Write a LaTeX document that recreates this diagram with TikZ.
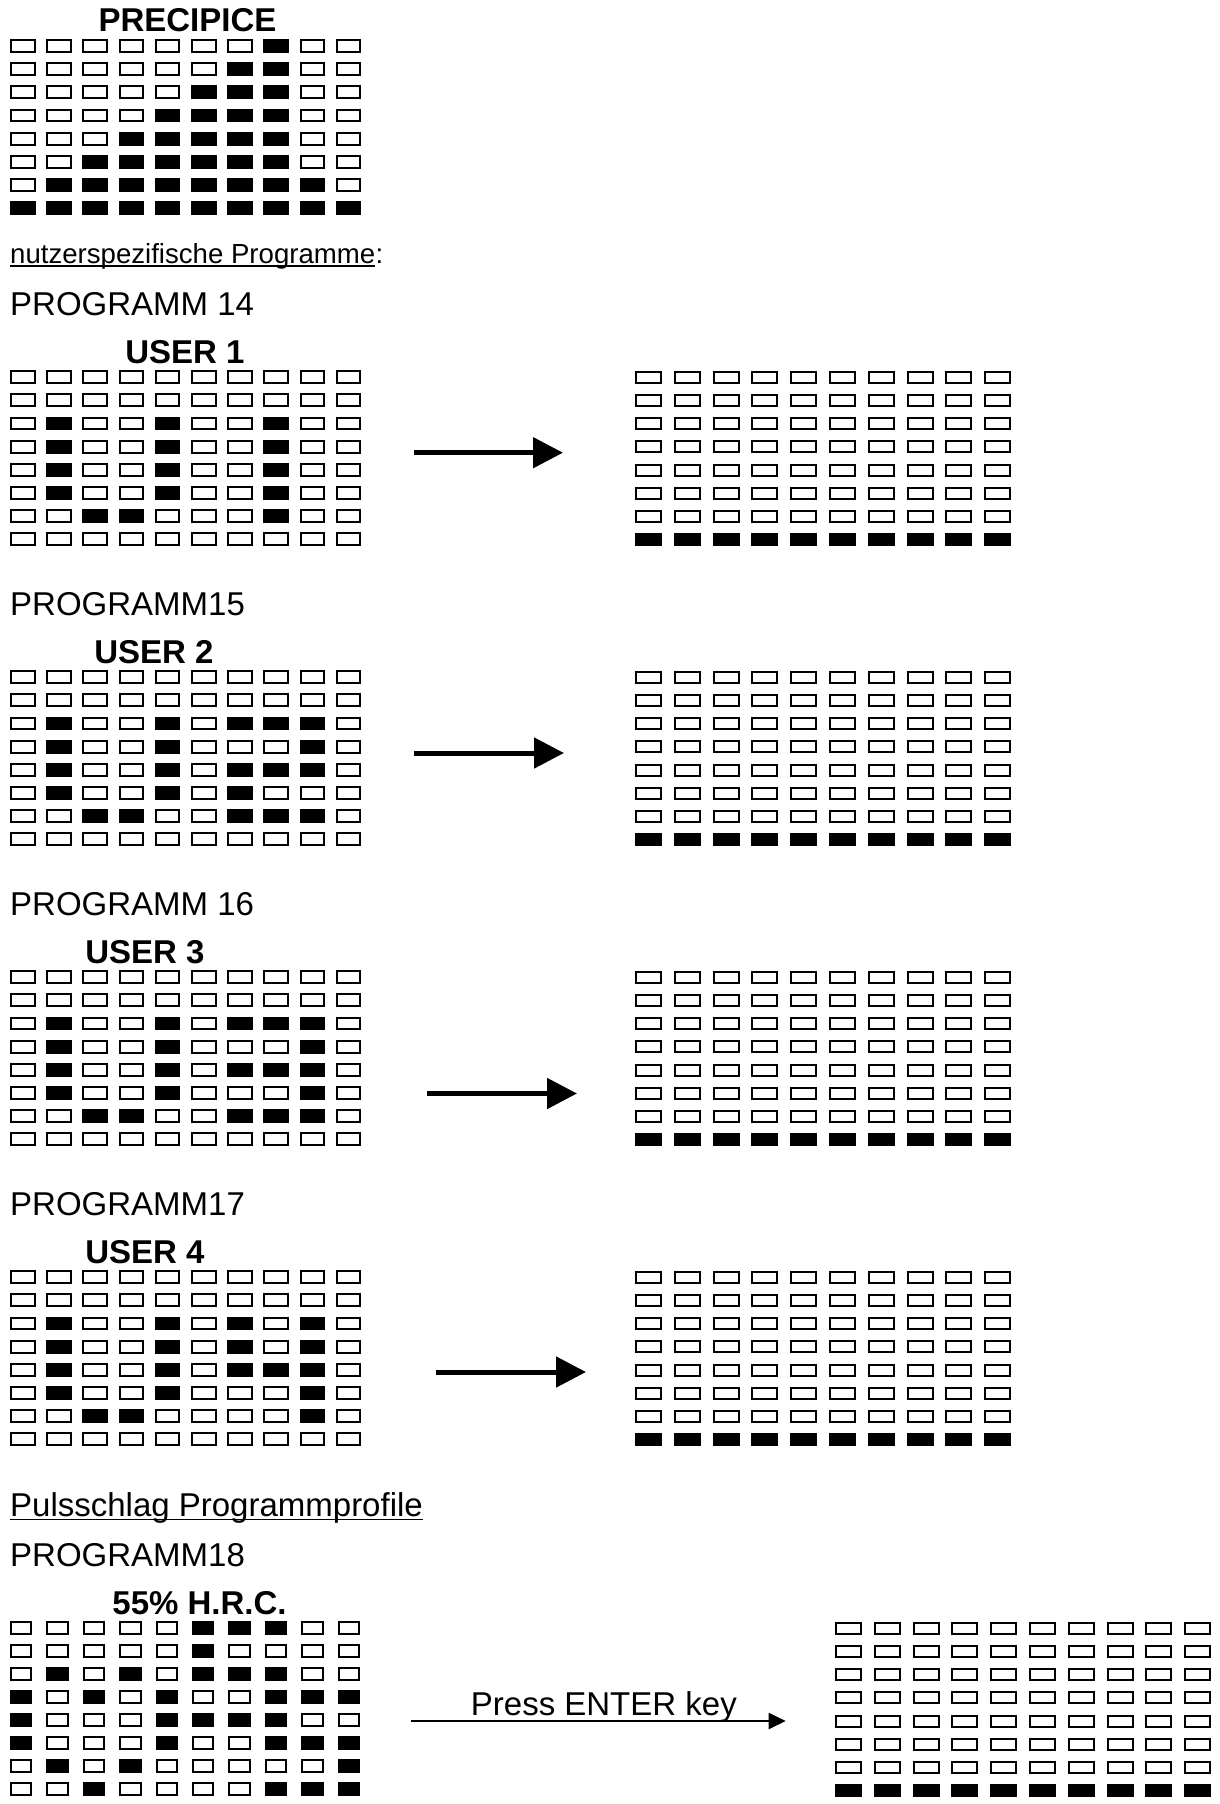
\documentclass[tikz,border=0pt]{standalone}
\usepackage{fontspec}
\setmainfont{Liberation Sans}
\usetikzlibrary{arrows.meta}
\colorlet{c0}{white}
\colorlet{c1}{black}
\newcommand\drawgrid[7]{%
  \foreach \row [count=\j] in {#7} {%
    \foreach \v [count=\i] in \row {%
      \node[#6, fill=c\v] (#1-\j-\i) at ({#2+(\i-1)*#4},{#3+(\j-1)*#5}) {};
    }%
  }%
}
\newcommand\drawright[3]{%
  \foreach \j in {1,...,8} {%
    \foreach \i in {1,...,10} {%
      \ifnum\j=8
        \node[cellR, fill=black] (#1-\j-\i) at ({#2+(\i-1)*38.8},{#3+(\j-1)*23.2}) {};
      \else
        \node[cellR] (#1-\j-\i) at ({#2+(\i-1)*38.8},{#3+(\j-1)*23.2}) {};
      \fi
    }%
  }%
}
\begin{document}
\begin{tikzpicture}[x=1pt,y=-1pt,
  cellL/.style={draw=black, fill=white, line width=2pt, inner sep=0pt, minimum width=23.5pt, minimum height=11.8pt},
  cellR/.style={draw=black, fill=white, line width=2pt, inner sep=0pt, minimum width=25pt, minimum height=11pt},
  cellH/.style={draw=black, fill=white, line width=2pt, inner sep=0pt, minimum width=20.5pt, minimum height=12.3pt},
  ttl/.style={font=\fontsize{33}{40}\selectfont\bfseries, inner sep=0pt, anchor=base},
  lbl/.style={font=\fontsize{33}{40}\selectfont, inner sep=0pt, anchor=base west},
  bigarrow/.style={line width=5pt, -{Triangle[length=30pt,width=30pt]}},
  thinarrow/.style={line width=2pt, -{Triangle[length=17pt,width=16pt]}},
  uline/.style={line width=1.8pt}]
\fill[white] (0,0) rectangle (1220,1804);
\path[use as bounding box] (0,0) rectangle (1220,1804);

% PRECIPICE
\node[ttl] (tprec) at (187.5,31.7) {PRECIPICE};
\drawgrid{prec}{22.75}{46}{36.2}{23.15}{cellL}{%
 {0,0,0,0,0,0,0,1,0,0},
 {0,0,0,0,0,0,1,1,0,0},
 {0,0,0,0,0,1,1,1,0,0},
 {0,0,0,0,1,1,1,1,0,0},
 {0,0,0,1,1,1,1,1,0,0},
 {0,0,1,1,1,1,1,1,0,0},
 {0,1,1,1,1,1,1,1,1,0},
 {1,1,1,1,1,1,1,1,1,1}}

% heading
\node[font=\fontsize{27.6}{33}\selectfont, inner sep=0pt, anchor=base west] (nutz) at (10,263) {nutzerspezifische Programme};
\node[font=\fontsize{27.6}{33}\selectfont, inner sep=0pt, anchor=base west] (nutzc) at (nutz.base east) {:};
\draw[uline] ([yshift=-3pt]nutz.base west) -- ([yshift=-3pt]nutz.base east);

% PROGRAMM 14
\node[lbl] (p14) at (10,315) {PROGRAMM 14};
\node[ttl] (tu1) at (185,363) {USER 1};
\drawgrid{u1}{22.75}{377.2}{36.2}{23.15}{cellL}{%
 {0,0,0,0,0,0,0,0,0,0},
 {0,0,0,0,0,0,0,0,0,0},
 {0,1,0,0,1,0,0,1,0,0},
 {0,1,0,0,1,0,0,1,0,0},
 {0,1,0,0,1,0,0,1,0,0},
 {0,1,0,0,1,0,0,1,0,0},
 {0,0,1,1,0,0,0,1,0,0},
 {0,0,0,0,0,0,0,0,0,0}}
\coordinate (a1s) at (414,452.7);
\coordinate (a1e) at (563,452.7);
\draw[bigarrow] (a1s) -- (a1e);
\drawright{r1}{648.5}{377.2}

% PROGRAMM15
\node[lbl] (p15) at (10,615) {PROGRAMM15};
\node[ttl] (tu2) at (154,663) {USER 2};
\drawgrid{u2}{22.75}{677.2}{36.2}{23.15}{cellL}{%
 {0,0,0,0,0,0,0,0,0,0},
 {0,0,0,0,0,0,0,0,0,0},
 {0,1,0,0,1,0,1,1,1,0},
 {0,1,0,0,1,0,0,0,1,0},
 {0,1,0,0,1,0,1,1,1,0},
 {0,1,0,0,1,0,1,0,0,0},
 {0,0,1,1,0,0,1,1,1,0},
 {0,0,0,0,0,0,0,0,0,0}}
\coordinate (a2s) at (414,753);
\coordinate (a2e) at (564,753);
\draw[bigarrow] (a2s) -- (a2e);
\drawright{r2}{648.5}{677.2}

% PROGRAMM 16
\node[lbl] (p16) at (10,915) {PROGRAMM 16};
\node[ttl] (tu3) at (145,963) {USER 3};
\drawgrid{u3}{22.75}{977.2}{36.2}{23.15}{cellL}{%
 {0,0,0,0,0,0,0,0,0,0},
 {0,0,0,0,0,0,0,0,0,0},
 {0,1,0,0,1,0,1,1,1,0},
 {0,1,0,0,1,0,0,0,1,0},
 {0,1,0,0,1,0,1,1,1,0},
 {0,1,0,0,1,0,0,0,1,0},
 {0,0,1,1,0,0,1,1,1,0},
 {0,0,0,0,0,0,0,0,0,0}}
\coordinate (a3s) at (427,1093.5);
\coordinate (a3e) at (577,1093.5);
\draw[bigarrow] (a3s) -- (a3e);
\drawright{r3}{648.5}{977.2}

% PROGRAMM17
\node[lbl] (p17) at (10,1215) {PROGRAMM17};
\node[ttl] (tu4) at (145,1263) {USER 4};
\drawgrid{u4}{22.75}{1277.2}{36.2}{23.15}{cellL}{%
 {0,0,0,0,0,0,0,0,0,0},
 {0,0,0,0,0,0,0,0,0,0},
 {0,1,0,0,1,0,1,0,1,0},
 {0,1,0,0,1,0,1,0,1,0},
 {0,1,0,0,1,0,1,1,1,0},
 {0,1,0,0,1,0,0,0,1,0},
 {0,0,1,1,0,0,0,0,1,0},
 {0,0,0,0,0,0,0,0,0,0}}
\coordinate (a4s) at (436,1372);
\coordinate (a4e) at (586,1372);
\draw[bigarrow] (a4s) -- (a4e);
\drawright{r4}{648.5}{1277.2}

% Pulsschlag
\node[lbl] (puls) at (10,1516) {Pulsschlag Programmprofile};
\draw[uline] ([yshift=-3.5pt]puls.base west) -- ([yshift=-3.5pt]puls.base east);
\node[lbl] (p18) at (10,1566) {PROGRAMM18};
\node[ttl] (thrc) at (199.6,1614) {55\% H.R.C.};
\drawgrid{hrc}{21.2}{1627.9}{36.4}{23.0}{cellH}{%
 {0,0,0,0,0,1,1,1,0,0},
 {0,0,0,0,0,1,0,0,0,0},
 {0,1,0,1,0,1,1,1,0,0},
 {1,0,1,0,1,0,0,1,1,1},
 {1,0,0,0,1,1,1,1,0,0},
 {1,0,0,0,1,0,0,1,1,1},
 {0,1,0,1,0,0,0,0,0,1},
 {0,0,1,0,0,0,0,1,1,1}}
\coordinate (a5s) at (410.7,1721);
\coordinate (a5e) at (785.7,1721);
\draw[thinarrow] (a5s) -- (a5e);
\node[lbl] (enter) at (470.7,1715) {Press ENTER key};
\drawright{r5}{848.5}{1628.2}
\end{tikzpicture}
\end{document}
